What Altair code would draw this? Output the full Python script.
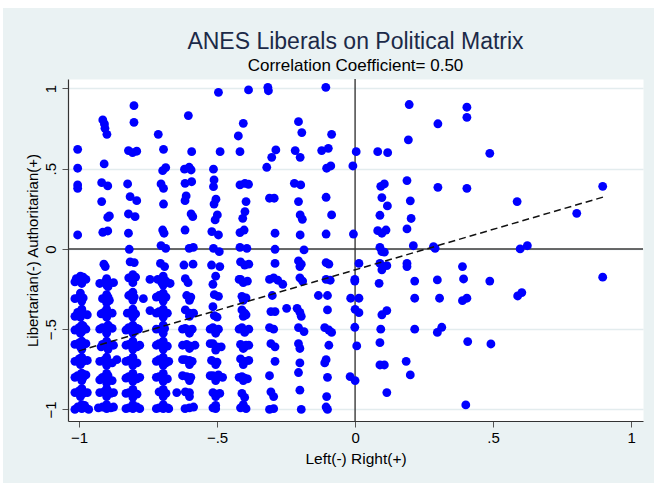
import altair as alt
import pandas as pd

# ---- data (x = Left(-)/Right(+), y = Libertarian(-)/Authoritarian(+)) ----
upper_left = [
    [-1.005, 0.621], [-1.005, 0.503], [-1.005, 0.399], [-1.005, 0.378], [-1.005, 0.087],
    [-0.914, 0.804], [-0.908, 0.779], [-0.906, 0.752], [-0.899, 0.714], [-0.909, 0.530],
    [-0.918, 0.413], [-0.896, 0.393], [-0.918, 0.295], [-0.896, 0.197], [-0.890, 0.206],
    [-0.914, 0.104], [-0.896, 0.112],
    [-0.801, 0.893], [-0.801, 0.789], [-0.821, 0.613], [-0.806, 0.600], [-0.791, 0.609],
    [-0.824, 0.405], [-0.815, 0.326], [-0.791, 0.301], [-0.821, 0.218], [-0.797, 0.201],
    [-0.821, 0.098], [-0.818, -0.002],
    [-0.713, 0.714], [-0.694, 0.621], [-0.697, 0.488], [-0.686, 0.507], [-0.703, 0.405],
    [-0.694, 0.378], [-0.694, 0.280], [-0.697, 0.118], [-0.692, 0.098], [-0.703, 0.021],
    [-0.686, 0.004],
    [-0.604, 0.831], [-0.592, 0.606], [-0.618, 0.497], [-0.601, 0.509], [-0.594, 0.492],
    [-0.616, 0.409], [-0.592, 0.419], [-0.612, 0.330], [-0.616, 0.301], [-0.594, 0.218],
    [-0.588, 0.201], [-0.616, 0.118], [-0.601, 0.004], [-0.586, 0.010],
    [-0.495, 0.976], [-0.489, 0.606], [-0.513, 0.497], [-0.511, 0.430], [-0.513, 0.388],
    [-0.504, 0.310], [-0.511, 0.280], [-0.499, 0.212], [-0.507, 0.181], [-0.519, 0.108],
    [-0.495, 0.087], [-0.513, 0.004], [-0.492, -0.017],
    [-0.386, 0.991], [-0.405, 0.783], [-0.423, 0.704], [-0.417, 0.606], [-0.417, 0.399],
    [-0.399, 0.409], [-0.386, 0.403], [-0.395, 0.295], [-0.399, 0.233], [-0.407, 0.191],
    [-0.417, 0.102], [-0.402, 0.118], [-0.417, 0.010], [-0.392, 0.004],
    [-0.316, 1.007], [-0.314, 0.986], [-0.287, 0.617], [-0.302, 0.571], [-0.320, 0.509],
    [-0.310, 0.316], [-0.293, 0.316], [-0.290, 0.098], [-0.290, -0.002],
    [-0.205, 0.793], [-0.193, 0.725], [-0.217, 0.613], [-0.199, 0.571], [-0.220, 0.409],
    [-0.197, 0.399], [-0.205, 0.295], [-0.199, 0.212], [-0.191, 0.185], [-0.199, 0.087],
    [-0.185, -0.006],
    [-0.106, 1.007], [-0.085, 0.714], [-0.121, 0.613], [-0.097, 0.627], [-0.103, 0.503],
    [-0.088, 0.517], [-0.105, 0.322], [-0.085, 0.212], [-0.105, 0.093],
]

lower_left = [
    # x about -1
    [-1.01, -0.185], [-0.99, -0.195], [-0.975, -0.19],
    [-1.0, -0.30], [-0.985, -0.305],
    [-1.005, -0.395], [-0.985, -0.405], [-0.97, -0.41],
    [-1.0, -0.49], [-0.99, -0.515], [-0.975, -0.50],
    [-1.0, -0.585], [-0.985, -0.60], [-0.995, -0.61],
    [-1.0, -0.685], [-0.985, -0.70], [-0.97, -0.695],
    [-1.005, -0.79], [-0.985, -0.80], [-0.975, -0.785],
    [-1.0, -0.885], [-0.985, -0.90], [-0.97, -0.895],
    [-1.005, -0.985], [-0.99, -0.995], [-0.975, -0.99], [-0.965, -1.0],
    # x about -0.9
    [-0.91, -0.095], [-0.905, -0.11],
    [-0.905, -0.205], [-0.89, -0.215], [-0.9, -0.225],
    [-0.915, -0.31], [-0.895, -0.30], [-0.89, -0.32],
    [-0.91, -0.395], [-0.895, -0.405], [-0.88, -0.40],
    [-0.915, -0.49], [-0.9, -0.50], [-0.88, -0.495], [-0.89, -0.485],
    [-0.915, -0.595], [-0.9, -0.605], [-0.885, -0.60],
    [-0.91, -0.695], [-0.895, -0.705], [-0.88, -0.71], [-0.863, -0.69],
    [-0.915, -0.80], [-0.9, -0.81], [-0.88, -0.82], [-0.895, -0.79],
    [-0.91, -0.89], [-0.895, -0.885], [-0.885, -0.90],
    [-0.915, -0.985], [-0.9, -0.995], [-0.885, -0.99],
    # x about -0.8
    [-0.815, -0.08], [-0.80, -0.085],
    [-0.82, -0.18], [-0.805, -0.19], [-0.795, -0.175], [-0.743, -0.19],
    [-0.82, -0.29], [-0.80, -0.30], [-0.767, -0.31],
    [-0.825, -0.40], [-0.81, -0.395], [-0.795, -0.405], [-0.743, -0.384],
    [-0.82, -0.49], [-0.805, -0.50], [-0.79, -0.495],
    [-0.82, -0.595], [-0.805, -0.605], [-0.79, -0.61],
    [-0.82, -0.695], [-0.80, -0.705], [-0.79, -0.71],
    [-0.82, -0.795], [-0.805, -0.80], [-0.79, -0.81],
    [-0.82, -0.895], [-0.80, -0.90], [-0.79, -0.905],
    [-0.82, -0.99], [-0.805, -0.995], [-0.79, -0.985],
    # x about -0.7
    [-0.705, -0.09], [-0.69, -0.11],
    [-0.715, -0.19], [-0.70, -0.21], [-0.685, -0.20], [-0.67, -0.215],
    [-0.71, -0.29], [-0.695, -0.31], [-0.685, -0.30],
    [-0.71, -0.39], [-0.695, -0.41], [-0.68, -0.40],
    [-0.705, -0.50], [-0.69, -0.495],
    [-0.71, -0.59], [-0.695, -0.60], [-0.68, -0.605],
    [-0.71, -0.69], [-0.695, -0.70], [-0.685, -0.71],
    [-0.71, -0.795], [-0.695, -0.80], [-0.68, -0.81],
    [-0.71, -0.89], [-0.695, -0.895], [-0.685, -0.90], [-0.646, -0.895],
    [-0.71, -0.99], [-0.695, -0.995], [-0.68, -0.99],
    # x about -0.6
    [-0.62, -0.10], [-0.587, -0.095],
    [-0.615, -0.185], [-0.605, -0.21],
    [-0.61, -0.29], [-0.595, -0.30],
    [-0.615, -0.38], [-0.60, -0.40],
    [-0.615, -0.495], [-0.60, -0.505], [-0.59, -0.50],
    [-0.61, -0.595], [-0.595, -0.605],
    [-0.615, -0.69], [-0.60, -0.695], [-0.59, -0.70],
    [-0.61, -0.795], [-0.595, -0.80],
    [-0.615, -0.89], [-0.60, -0.895],
    [-0.616, -0.995], [-0.60, -0.99],
    # x about -0.5
    [-0.52, -0.10], [-0.49, -0.11],
    [-0.505, -0.17], [-0.515, -0.22],
    [-0.51, -0.285], [-0.495, -0.295],
    [-0.515, -0.36],
    [-0.51, -0.415], [-0.50, -0.425],
    [-0.515, -0.49], [-0.505, -0.51], [-0.495, -0.50],
    [-0.515, -0.59], [-0.50, -0.61], [-0.505, -0.63],
    [-0.52, -0.695], [-0.50, -0.705],
    [-0.515, -0.79], [-0.505, -0.80], [-0.495, -0.785],
    [-0.515, -0.895], [-0.50, -0.905], [-0.49, -0.90],
    [-0.515, -0.99],
    # x about -0.4
    [-0.415, -0.08], [-0.40, -0.10], [-0.385, -0.095],
    [-0.415, -0.19], [-0.405, -0.21], [-0.39, -0.20],
    [-0.41, -0.295], [-0.395, -0.305],
    [-0.41, -0.38], [-0.40, -0.40], [-0.395, -0.41],
    [-0.41, -0.49], [-0.40, -0.52],
    [-0.415, -0.595], [-0.40, -0.61], [-0.395, -0.60],
    [-0.415, -0.685], [-0.40, -0.70], [-0.385, -0.695],
    [-0.41, -0.795], [-0.40, -0.805],
    [-0.41, -0.90], [-0.40, -0.925],
    [-0.415, -0.99], [-0.395, -0.995],
    # x about -0.3
    [-0.29, -0.09],
    [-0.31, -0.19], [-0.295, -0.18], [-0.28, -0.195], [-0.262, -0.22],
    [-0.30, -0.29],
    [-0.305, -0.39], [-0.29, -0.39], [-0.248, -0.37],
    [-0.31, -0.49], [-0.295, -0.50],
    [-0.305, -0.59], [-0.29, -0.61],
    [-0.29, -0.70],
    [-0.31, -0.79],
    [-0.305, -0.89], [-0.295, -0.92],
    [-0.31, -1.0], [-0.295, -0.995],
    # x about -0.2
    [-0.205, -0.075], [-0.195, -0.095], [-0.20, -0.11],
    [-0.20, -0.18], [-0.19, -0.20],
    [-0.21, -0.37], [-0.20, -0.395], [-0.195, -0.42],
    [-0.205, -0.49], [-0.185, -0.515],
    [-0.205, -0.59], [-0.20, -0.62],
    [-0.20, -0.71], [-0.205, -0.77], [-0.20, -0.88], [-0.195, -1.0],
    # x about -0.1
    [-0.105, -0.085], [-0.095, -0.095],
    [-0.105, -0.19], [-0.09, -0.195],
    [-0.10, -0.29], [-0.133, -0.29],
    [-0.10, -0.38],
    [-0.11, -0.49], [-0.095, -0.505], [-0.085, -0.52],
    [-0.095, -0.60],
    [-0.105, -0.69], [-0.11, -0.71],
    [-0.10, -0.80], [-0.103, -0.92],
    [-0.105, -0.985], [-0.10, -1.0],
]

# further overlapping points inside the dense lower-left clusters
lower_left_dense = [
    [-1.015, -0.205], [-0.985, -0.175], [-1.015, -0.31], [-1.015, -0.42], [-0.99, -0.385],
    [-1.015, -0.505], [-0.985, -0.48], [-1.015, -0.595], [-0.975, -0.59], [-1.015, -0.70],
    [-0.99, -0.68], [-1.015, -0.80], [-0.99, -0.775], [-1.015, -0.895], [-0.99, -0.875],
    [-1.015, -1.0], [-0.98, -0.975],
    [-0.925, -0.215], [-0.92, -0.405], [-0.925, -0.50], [-0.92, -0.61], [-0.925, -0.70],
    [-0.925, -0.815], [-0.925, -0.895], [-0.93, -0.99], [-0.875, -0.985], [-0.875, -0.895],
    [-0.875, -0.60], [-0.875, -0.21], [-0.90, -0.32],
    [-0.83, -0.505], [-0.83, -0.60], [-0.83, -0.70], [-0.83, -0.805], [-0.83, -0.90],
    [-0.83, -0.995], [-0.78, -0.995], [-0.78, -0.80], [-0.78, -0.60], [-0.785, -0.50],
    [-0.81, -0.28],
    [-0.72, -0.50], [-0.72, -0.60], [-0.72, -0.70], [-0.72, -0.80], [-0.72, -0.995],
    [-0.675, -0.70], [-0.675, -0.995], [-0.72, -0.40], [-0.72, -0.30],
    [-0.625, -0.50], [-0.625, -0.60], [-0.58, -0.60], [-0.625, -0.79], [-0.585, -0.985],
    [-0.625, -0.69], [-0.585, -0.40],
    [-0.525, -0.59], [-0.485, -0.61], [-0.525, -0.79], [-0.48, -0.80], [-0.505, -0.995],
    [-0.525, -0.50],
    [-0.42, -0.50], [-0.385, -0.50], [-0.42, -0.80], [-0.39, -0.81], [-0.42, -0.19],
    [-0.385, -0.60],
]

# points stacked just above / below the cluster centres (clusters look fused in the picture)
lower_left_fill = [
    [-0.995, -0.17], [-0.99, -0.215], [-0.995, -0.275], [-0.99, -0.325], [-0.99, -0.375],
    [-0.995, -0.425], [-0.99, -0.475], [-0.995, -0.525], [-0.99, -0.575], [-0.99, -0.625],
    [-0.99, -0.675], [-0.995, -0.72], [-0.99, -0.775], [-0.99, -0.82], [-0.99, -0.87],
    [-0.995, -0.92], [-0.99, -0.97],
    [-0.90, -0.185], [-0.895, -0.235], [-0.90, -0.285], [-0.90, -0.335], [-0.90, -0.375],
    [-0.90, -0.425], [-0.895, -0.475], [-0.90, -0.525], [-0.90, -0.575], [-0.895, -0.625],
    [-0.90, -0.675], [-0.90, -0.725], [-0.90, -0.775], [-0.90, -0.835], [-0.90, -0.87],
    [-0.90, -0.92], [-0.90, -0.97],
    [-0.805, -0.16], [-0.805, -0.21], [-0.805, -0.27], [-0.805, -0.32], [-0.805, -0.375],
    [-0.805, -0.425], [-0.805, -0.475], [-0.805, -0.525], [-0.805, -0.575], [-0.805, -0.625],
    [-0.805, -0.675], [-0.805, -0.725], [-0.805, -0.775], [-0.805, -0.825], [-0.805, -0.875],
    [-0.805, -0.925], [-0.805, -0.97],
    [-0.695, -0.17], [-0.695, -0.225], [-0.695, -0.275], [-0.695, -0.325], [-0.695, -0.375],
    [-0.695, -0.425], [-0.695, -0.475], [-0.695, -0.525], [-0.695, -0.575], [-0.695, -0.625],
    [-0.695, -0.675], [-0.695, -0.725], [-0.695, -0.775], [-0.695, -0.825], [-0.695, -0.875],
    [-0.695, -0.92], [-0.695, -0.97],
    [-0.60, -0.525], [-0.60, -0.62], [-0.60, -0.72], [-0.60, -0.82], [-0.60, -0.92],
    [-0.60, -0.32], [-0.60, -0.42],
    [-0.505, -0.525], [-0.505, -0.72], [-0.505, -0.82], [-0.505, -0.92], [-0.505, -0.975],
    [-0.405, -0.32], [-0.405, -0.42], [-0.405, -0.62], [-0.405, -0.72], [-0.405, -0.82],
    [-0.405, -0.97],
]

right_side = [
    [0.196, 0.90], [0.405, 0.883], [0.405, 0.82], [0.30, 0.78], [0.193, 0.68],
    [0.004, 0.606], [0.082, 0.606], [0.118, 0.60], [0.488, 0.596], [-0.008, 0.517],
    [0.188, 0.426], [0.093, 0.39], [0.106, 0.405], [0.30, 0.384], [0.405, 0.378],
    [0.897, 0.39], [0.097, 0.32], [0.20, 0.30], [0.117, 0.268], [0.587, 0.295],
    [0.09, 0.21], [0.203, 0.19], [0.803, 0.222], [-0.006, 0.093], [0.082, 0.114],
    [0.097, 0.098], [0.112, 0.118], [0.188, 0.125], [0.211, 0.02], [0.09, 0.01],
    [0.097, -0.017], [0.106, -0.02], [0.284, 0.015], [0.29, 0.004], [0.598, 0.0],
    [0.624, 0.02],
    [0.014, -0.09], [0.09, -0.09], [0.097, -0.13], [0.115, -0.104], [0.188, -0.09],
    [0.188, -0.11], [0.389, -0.11], [-0.001, -0.19], [-0.001, -0.20], [0.087, -0.214],
    [0.216, -0.20], [0.298, -0.193], [0.393, -0.187], [0.488, -0.20], [0.897, -0.176],
    [-0.016, -0.307], [0.014, -0.307], [0.216, -0.307], [0.306, -0.307], [0.389, -0.322],
    [0.405, -0.307], [0.589, -0.293], [0.604, -0.272], [0.0, -0.376], [0.014, -0.397],
    [0.097, -0.41], [0.115, -0.384], [-0.001, -0.488], [0.093, -0.50], [0.216, -0.50],
    [0.298, -0.52], [0.314, -0.488], [0.006, -0.604], [0.09, -0.584], [0.408, -0.577],
    [0.492, -0.592], [0.09, -0.723], [0.106, -0.723], [0.185, -0.70], [0.20, -0.785],
    [-0.018, -0.796], [0.0, -0.82], [0.115, -0.895], [0.401, -0.972],
]

fit_x = [-1.0, 0.9]
fit_y = [-0.635, 0.324]

x_ticks = [-1, -0.5, 0, 0.5, 1]
y_ticks = [-1, -0.5, 0, 0.5, 1]

title_text = "ANES Liberals on Political Matrix"
subtitle_text = "Correlation Coefficient= 0.50"

# ---- build ----
FONT = "Liberation Sans"
W, H = 575, 342

pts = pd.DataFrame(upper_left + lower_left + lower_left_dense + lower_left_fill + right_side,
                   columns=["x", "y"])
fit = pd.DataFrame({"x": fit_x, "y": fit_y})

label_expr = "replace(format(datum.value, '~g'), '0.', '.')"

xscale = alt.Scale(domain=[-1.04, 1.043], nice=False, zero=False)
yscale = alt.Scale(domain=[-1.072, 1.059], nice=False, zero=False)

xaxis = alt.Axis(values=x_ticks, labelExpr=label_expr, grid=False, tickSize=6,
                 tickColor="#555555", domainColor="#333333", domainWidth=1.2,
                 labelFont=FONT, labelFontSize=15, labelColor="#000000", labelPadding=3,
                 title="Left(-) Right(+)", titleFont=FONT, titleFontSize=15.5,
                 titleFontWeight="normal", titleColor="#000000",
                 titleY=37, titleBaseline="middle")
yaxis = alt.Axis(values=y_ticks, labelExpr=label_expr, grid=True, gridColor="#E3ECEE",
                 gridWidth=1.5, tickSize=6, tickColor="#555555", domainColor="#333333",
                 domainWidth=1.2, labelFont=FONT, labelFontSize=15, labelColor="#000000",
                 labelAngle=270, labelAlign="center", labelBaseline="bottom", labelPadding=4,
                 title="Libertarian(-) Authoritarian(+)", titleFont=FONT, titleFontSize=15,
                 titleFontWeight="normal", titleColor="#000000",
                 titleX=-36, titleY=H / 2, titleAngle=270, titleBaseline="middle",
                 titleAlign="center")

X = alt.X("x:Q", scale=xscale, axis=xaxis)
Y = alt.Y("y:Q", scale=yscale, axis=yaxis)

blank = alt.Data(values=[{"k": 1}])
top_strip = alt.Chart(blank).mark_rect(color="white").encode(
    x=alt.value(-68), x2=alt.value(W + 11), y=alt.value(-79), y2=alt.value(-71))
left_strip = alt.Chart(blank).mark_rect(color="white").encode(
    x=alt.value(-68), x2=alt.value(-65), y=alt.value(-79), y2=alt.value(H + 62))

title_mark = alt.Chart(alt.Data(values=[{"t": title_text}])).mark_text(
    font=FONT, fontSize=23, color="#1c2a48", align="center", baseline="alphabetic"
).encode(text="t:N", x=alt.value(W / 2), y=alt.value(-30))
subtitle_mark = alt.Chart(alt.Data(values=[{"t": subtitle_text}])).mark_text(
    font=FONT, fontSize=17, color="#000000", align="center", baseline="alphabetic"
).encode(text="t:N", x=alt.value(W / 2), y=alt.value(-8))

hline = alt.Chart(pd.DataFrame({"y": [0]})).mark_rule(color="#3a3a3a", strokeWidth=1.4).encode(y=Y)
vline = alt.Chart(pd.DataFrame({"x": [0]})).mark_rule(color="#3a3a3a", strokeWidth=1.4).encode(x=X)

points = alt.Chart(pts).mark_circle(color="#0000FF", opacity=1, size=78).encode(x=X, y=Y)

fit_line = alt.Chart(fit).mark_line(color="#111111", strokeWidth=1.5,
                                    strokeDash=[7, 4]).encode(x=X, y=Y)

chart = alt.layer(top_strip, left_strip, title_mark, subtitle_mark,
                  hline, vline, points, fit_line).properties(
    width=W, height=H,
    padding={"left": 68, "top": 79, "right": 11, "bottom": 62},
    autosize=alt.AutoSizeParams(type="none"),
    background="#EAF2F3",
).configure_view(fill="white", stroke="transparent")

chart.save("out.html", embed_options={"renderer": "svg", "actions": False})
